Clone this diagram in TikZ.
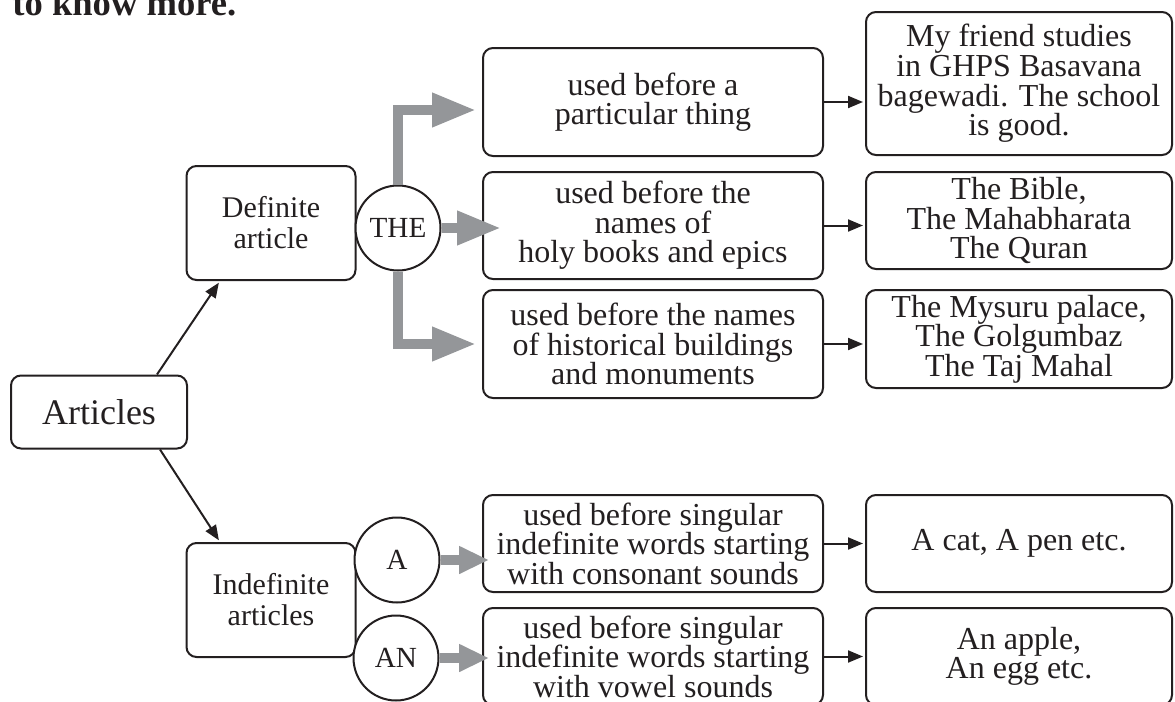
\documentclass[tikz,border=0pt]{standalone}
\usepackage{fontspec}
\setmainfont{Liberation Serif}
\usetikzlibrary{arrows.meta,positioning}
\definecolor{bargray}{RGB}{148,150,153}
\definecolor{inkblack}{RGB}{35,31,32}

\begin{document}
\begin{tikzpicture}[x=0.5pt, y=-0.5pt, node distance=3cm, inkblack,
    box/.style={draw, rectangle, rounded corners=5pt, line width=1pt, align=center, inner sep=2pt, font=\fontsize{16}{14.8}\selectfont},
    word/.style={draw, circle, line width=1pt, fill=white, minimum size=42.5pt, inner sep=0pt, font=\fontsize{14.6}{16}\selectfont},
    link/.style={-{Triangle[length=7.5pt,width=6pt]}, line width=1pt, shorten >=1pt},
    fat/.style={bargray, line width=5pt, -{Triangle[length=22pt,width=16pt]}},
    slim/.style={bargray, line width=5pt, -{Triangle[length=15pt,width=13pt]}}]

    \useasboundingbox (0,0) rectangle (1175,702);

    % Nodes
    \node [anchor=base west, inner sep=0pt, font=\fontsize{18.3}{20}\selectfont\bfseries] at (12,15) (title) {to know more.};

    \node [box, minimum width=88pt, minimum height=36.5pt, font=\fontsize{18}{20}\selectfont] at (99,412) (art) {Articles};
    \node [box, minimum width=84.5pt, minimum height=57pt, font=\fontsize{15}{15.5}\selectfont] at (271,223) (def) {Definite\\article};
    \node [box, minimum width=84.5pt, minimum height=57pt, font=\fontsize{15}{15.5}\selectfont] at (271,600) (indef) {Indefinite\\articles};

    \node [word] at (398,228) (the) {THE};
    \node [word] at (397,560) (a) {A};
    \node [word] at (396,658) (an) {AN};

    \node [box, minimum width=170pt, minimum height=54pt] at (653,102) (m1) {used before a\\particular thing};
    \node [box, minimum width=170pt, minimum height=53.5pt] at (653,225.5) (m2) {used before the\\names of\\holy books and epics};
    \node [box, minimum width=170pt, minimum height=54pt] at (653,344) (m3) {used before the names\\of historical buildings\\and monuments};
    \node [box, minimum width=170pt, minimum height=48.5pt] at (653,543.5) (m4) {used before singular\\indefinite words starting\\with consonant sounds};
    \node [box, minimum width=170pt, minimum height=48.5pt] at (653,656.5) (m5) {used before singular\\indefinite words starting\\with vowel sounds};

    \node [box, minimum width=153pt, minimum height=71.5pt] at (1019,83.5) (r1) {My friend studies\\in GHPS Basavana\\bagewadi. The school\\is good.};
    \node [box, minimum width=153pt, minimum height=48.5pt] at (1019,220.5) (r2) {The Bible,\\The Mahabharata\\The Quran};
    \node [box, minimum width=153pt, minimum height=49pt] at (1019,339) (r3) {The Mysuru palace,\\The Golgumbaz\\The Taj Mahal};
    \node [box, minimum width=153pt, minimum height=48.5pt, right of=m4, node distance=183pt] (r4) {A cat, A pen etc.};
    \node [box, minimum width=153pt, minimum height=48.5pt, right of=m5, node distance=183pt] (r5) {An apple,\\An egg etc.};

    % Arrows
    \draw[link] ([xshift=29pt]art.north) -- ([xshift=-25.5pt]def.south);
    \draw[link] ([xshift=30.5pt]art.south) -- ([xshift=-25.5pt]indef.north);

    \draw[fat] (the.north) |- ([xshift=-3pt,yshift=-4pt]m1.west);
    \draw[fat] (the.east) -- ([xshift=9.5pt]the.east -| m2.west);
    \draw[fat] (the.south) |- ([xshift=-3pt]m3.west);
    \draw[slim] (a.east) -- ([xshift=3.5pt]a.east -| m4.west);
    \draw[slim] (an.east) -- ([xshift=3.5pt]an.east -| m5.west);

    \draw[link] (m1.east) -- (m1.east -| r1.west);
    \draw[link] (m2.east) -- (m2.east -| r2.west);
    \draw[link] (m3.east) -- (m3.east -| r3.west);
    \draw[link] (m4.east) -- (r4.west);
    \draw[link] (m5.east) -- (r5.west);

\end{tikzpicture}
\end{document}
